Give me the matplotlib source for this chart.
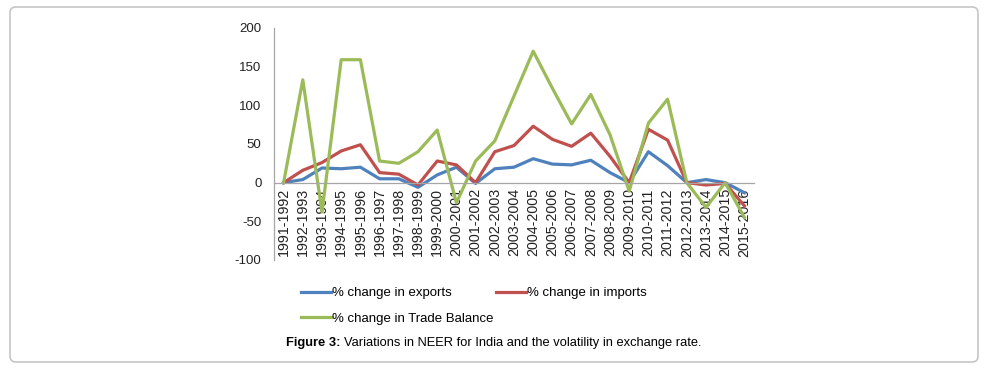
import numpy as np
import matplotlib.pyplot as plt
from matplotlib.patches import FancyBboxPatch

years = ['1991-1992', '1992-1993', '1993-1994', '1994-1995', '1995-1996',
         '1996-1997', '1997-1998', '1998-1999', '1999-2000', '2000-2001',
         '2001-2002', '2002-2003', '2003-2004', '2004-2005', '2005-2006',
         '2006-2007', '2007-2008', '2008-2009', '2009-2010', '2010-2011',
         '2011-2012', '2012-2013', '2013-2014', '2014-2015', '2015-2016']
exports = [0, 4, 19, 18, 20, 5, 5, -6, 10, 20, -1, 18, 20, 31, 24,
           23, 29, 13, 0, 40, 22, 0, 4, 0, -13]
imports = [0, 16, 26, 41, 49, 13, 11, -3, 28, 23, 0, 40, 48, 73, 56,
           47, 64, 34, 0, 69, 55, 0, -3, -1, -30]
trade_balance = [0, 133, -38, 159, 159, 28, 25, 40, 68, -26, 28, 54, 112, 170, 122,
                 76, 114, 62, -11, 77, 108, 0, -32, 0, -45]

plt.rcParams['font.family'] = ['Liberation Sans', 'DejaVu Sans']
plt.rcParams['axes.unicode_minus'] = False

fig = plt.figure(figsize=(9.9, 3.82), dpi=100)
ax = fig.add_axes([274 / 990, 122 / 382, 480 / 990, 232 / 382])

x = np.arange(len(years))
l1, = ax.plot(x, exports, color='#4F81BD', lw=2.3, label='% change in exports')
l2, = ax.plot(x, imports, color='#C0504D', lw=2.3, label='% change in imports')
l3, = ax.plot(x, trade_balance, color='#9BBB59', lw=2.3, label='% change in Trade Balance')

ax.set_xlim(-0.5, len(years) - 0.5)
ax.set_ylim(-100, 200)
ax.set_yticks(np.arange(-100, 201, 50))
ax.set_xticks(x)
ax.set_xticklabels(years)
ax.tick_params(axis='both', length=0, labelsize=9.5, colors='#222222')
ax.tick_params(axis='x', pad=4, labelrotation=90, labelsize=10.3)
ax.tick_params(axis='y', pad=9)

ax.spines['top'].set_visible(False)
ax.spines['right'].set_visible(False)
ax.spines['bottom'].set_position(('data', 0))
for s in ['left', 'bottom']:
    ax.spines[s].set_color('#a6a6a6')
    ax.spines[s].set_linewidth(0.9)

fig.legend([l1, l3, l2], [l1.get_label(), l3.get_label(), l2.get_label()],
           ncol=2, frameon=False, loc='upper left', bbox_to_anchor=(0.292, 0.28),
           fontsize=9.5, handlelength=2.3, handletextpad=0.05, columnspacing=0.2,
           labelspacing=1.0)

t1 = fig.text(0.289, 0.103, 'Figure 3:', fontweight='bold', ha='left', va='center', fontsize=9.25)
fig.canvas.draw()
bb = t1.get_window_extent()
fig.text(bb.x1 / fig.dpi / 9.9 + 0.003, 0.103,
         'Variations in NEER for India and the volatility in exchange rate.',
         ha='left', va='center', fontsize=9.25)

border = FancyBboxPatch((10 / 990, 20 / 382), 968 / 990, 355 / 382,
                        boxstyle='round,pad=0,rounding_size=0.006',
                        mutation_aspect=990 / 382, transform=fig.transFigure,
                        fill=False, edgecolor='#c6c6c6', lw=1.2)
fig.patches.append(border)

fig.savefig('out.png', dpi=100)
